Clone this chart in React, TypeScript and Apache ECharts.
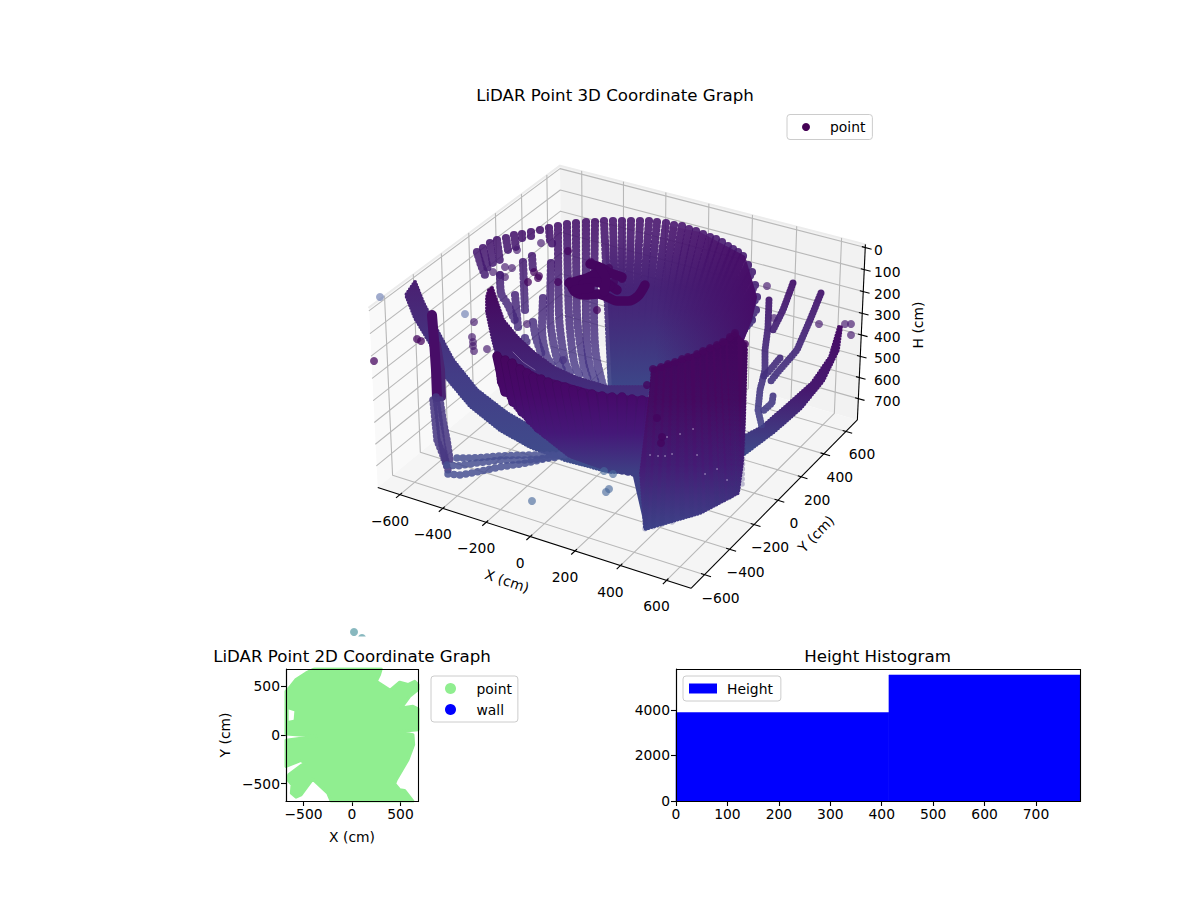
import { useEffect, useRef } from 'react';
import * as echarts from 'echarts';

type Pt = number[];

const FONT = '"DejaVu Sans"';

// ticks of the 3D axes
const xTicks3d = [-600, -400, -200, 0, 200, 400, 600];
const yTicks3d = [-600, -400, -200, 0, 200, 400, 600];
const hTicks3d = [0, 100, 200, 300, 400, 500, 600, 700];

// 3D box limits
const xLim = [-705, 705];
const yLim = [-705, 705];
const hLim = [-14, 802];

const rimShortColumns: Pt[][] = [
  [[477, 252], [481, 265], [485, 275]],
  [[483, 248], [488, 270]],
  [[490, 243], [493, 265]],
  [[497, 240], [500, 262]],
  [[506, 238], [508, 250]],
  [[514, 235], [516, 248]],
  [[522, 234], [522, 240]],
  [[531, 232], [531, 237]],
  [[540, 230], [540, 234]],
  [[549, 228], [550, 240], [553, 245]],
];

const lowerLeftColumns: Pt[][] = [
  [[500, 275], [501, 293], [508, 305], [516, 323]],
  [[523, 262], [525, 310]],
  [[515, 295], [518, 327]],
  [[532, 256], [533, 270]],
  [[525, 338], [527, 343]],
  [[533, 322], [536, 338], [542, 355]],
  [[543, 298], [542, 328], [546, 355], [552, 365]],
  [[551, 263], [550, 315], [556, 355], [562, 370]],
  [[558, 226], [559, 315], [565, 362], [570, 373]],
  [[567, 224], [569, 315], [574, 362], [580, 377]],
  [[576, 223], [577, 315], [583, 362], [588, 380]],
  [[586, 222], [586, 315], [589, 362], [596, 383]],
  [[595, 222], [594, 315], [596, 355], [603, 386]],
];

const bowlRim: Pt[] = [
  [604, 221], [613, 221], [622, 221], [631, 221], [640, 221], [649, 221], [657, 222], [666, 223],
  [674, 225], [682, 226], [689, 229], [696, 231], [703, 234], [710, 237], [716, 239], [722, 242],
  [728, 246], [733, 249], [738, 252], [743, 256], [748, 265], [752, 272], [755, 285], [757, 297],
  [756, 310], [752, 320],
];
const bowlFoot: Pt[] = [
  [612, 392], [617, 392], [622, 395], [627, 395], [632, 395], [636, 395], [640, 395], [644, 395],
  [648, 395], [652, 395], [655, 395], [658, 395], [661, 395], [664, 395], [667, 395], [670, 395],
  [672, 395], [675, 395], [677, 395], [680, 395], [682, 395], [684, 395], [686, 395], [688, 395],
  [688, 395], [688, 395],
];
const bowlCore: Pt[] = [
  [612, 392], [604, 225], [650, 222], [700, 232], [745, 256], [757, 297], [752, 320], [742, 345], [690, 395],
];

const blobStrokes: Pt[][] = [
  [[570, 282], [575, 292], [585, 295], [598, 294], [607, 297], [617, 301], [628, 301], [638, 296], [645, 285]],
  [[590, 264], [602, 268], [608, 272], [622, 277]],
  [[569, 283], [587, 278], [598, 273], [603, 282], [605, 290]],
  [[605, 282], [617, 290]],
  [[583, 284], [595, 282], [610, 286]],
  [[600, 268], [606, 280], [604, 292]],
  [[575, 290], [590, 288]],
];

const crescentBand: Pt[] = [
  [492, 288], [495, 297], [503, 320], [517, 337], [533, 352], [553, 367], [577, 378], [607, 387], [647, 387],
  [647, 430], [580, 420], [547, 407], [513, 380], [497, 355], [493, 340], [487, 312], [487, 297], [489, 290],
];
const crescentBack: Pt[] = [
  [497, 356], [541, 379], [602, 396], [648, 400], [637, 473], [609, 469], [570, 455], [537, 429], [517, 408], [500, 383],
];
const crescentTops: Pt[] = [
  [497, 356], [505, 360], [512, 363], [520, 369], [527, 373], [533, 377], [541, 379], [548, 382], [557, 385],
  [565, 387], [573, 390], [582, 393], [592, 394], [602, 396], [612, 397], [622, 397], [632, 399], [642, 400],
];
const crescentBottoms: Pt[] = [
  [505, 392], [513, 402], [522, 412], [530, 420], [538, 428], [546, 434], [554, 440], [562, 446], [570, 451],
  [578, 455], [586, 458], [594, 461], [602, 464], [609, 466], [615, 468], [622, 470], [628, 471], [634, 472],
];

const leftBand: Pt[] = [
  [415, 282], [423, 302], [437, 330], [453, 360], [477, 390], [507, 413], [540, 432], [570, 444], [610, 458],
  [640, 462], [640, 472], [610, 472], [565, 460], [530, 447], [500, 430], [470, 406], [445, 376], [430, 343], [415, 318], [406, 295],
];
const legThick: Pt[] = [[432, 315], [434, 340], [436, 370], [437, 397]];
const legSide: Pt[] = [[437, 345], [441, 370], [442, 397]];
const legStrands: Pt[][] = [
  [[433, 400], [435, 420], [437, 440], [443, 455], [448, 470], [450, 473]],
  [[440, 400], [443, 420], [447, 440], [450, 460]],
  [[436, 397], [439, 420], [442, 445], [446, 462]],
];
const floorStrands: Pt[][] = [
  [[457, 458], [473, 458], [500, 456], [527, 455], [547, 455], [573, 455]],
  [[447, 465], [457, 466], [477, 463], [500, 460], [527, 460], [560, 457]],
  [[448, 474], [460, 475], [477, 472], [500, 467], [527, 463], [560, 455]],
];

const rightBand: Pt[] = [
  [839, 327], [830, 357], [812, 383], [785, 407], [762, 427], [743, 437],
  [743, 455], [775, 431], [801, 408], [823, 381], [838, 350], [841, 327],
];
const rightBranches: Pt[][] = [
  [[769, 300], [768, 327], [765, 350], [765, 370], [760, 390], [758, 410], [762, 427]],
  [[793, 283], [783, 310], [773, 330]],
  [[821, 293], [810, 320], [797, 350], [777, 373], [770, 382]],
  [[780, 358], [770, 370], [763, 377]],
  [[773, 396], [772, 403], [762, 412]],
];

const wallOutline: Pt[] = [
  [653, 369], [661, 367], [668, 364], [675, 362], [682, 359], [688, 357], [697, 354], [703, 351], [710, 348],
  [717, 345], [723, 342], [730, 337], [735, 333], [745, 344], [746, 350], [744, 420], [742, 463], [738, 493],
  [700, 513], [645, 529], [641, 473], [650, 400],
];
const wallTops: Pt[] = [
  [653, 369], [661, 367], [668, 364], [675, 362], [682, 359], [688, 357], [697, 354], [703, 351], [710, 348],
  [717, 345], [723, 342], [730, 337], [735, 333], [745, 344],
];
const wallBottoms: Pt[] = [
  [645, 529], [653, 527], [662, 525], [672, 522], [682, 519], [692, 516], [700, 513], [708, 508], [717, 505],
  [723, 502], [730, 498], [735, 495], [738, 492], [742, 487],
];
const wallFan: Pt[] = [[631, 468], [650, 395], [655, 527], [645, 529]];
const wallSpecks: Pt[] = [
  [693, 429], [680, 434], [667, 437], [650, 455], [658, 456], [665, 456], [672, 454], [697, 455],
  [705, 474], [717, 469], [727, 480],
];

const darkPoints: Pt[] = [
  [597, 310], [568, 251], [558, 282], [539, 276], [538, 278], [534, 272], [528, 282],
  [417, 339], [421, 341], [374, 361], [591, 262], [597, 268], [609, 268], [577, 281], [614, 282], [622, 279],
];
const wallPoints: Pt[] = [[657, 418], [662, 437], [661, 443], [647, 385]];
const midPoints: Pt[] = [
  [541, 243], [517, 250], [505, 267], [512, 268], [493, 272], [500, 275], [505, 277], [563, 360], [527, 324],
  [474, 322], [472, 337], [473, 342], [473, 346], [474, 351], [487, 349],
  [767, 286], [774, 318], [819, 324], [845, 324], [851, 324], [851, 335],
];
const paleBluePoints: Pt[] = [[380, 297], [465, 314]];
const floorPoints: Pt[] = [[532, 501], [604, 471], [613, 474], [606, 492], [609, 489]];
const tealPoints: Pt[] = [[354, 632], [362, 638]];

// 2D plot outline of the scattered points, in cm
const topViewOutline: Pt[] = [
  [-387, 682], [301, 682], [284, 623], [250, 554], [394, 461], [491, 544], [577, 520], [646, 554], [680, 520],
  [680, 468], [594, 399], [508, 279], [628, 296], [680, 269], [680, 55], [473, 34], [628, 3], [635, -100],
  [577, -255], [456, -461], [439, -503], [491, -565], [542, -572], [628, -682], [-215, -682], [-250, -599],
  [-405, -454], [-525, -616], [-577, -640], [-625, -599], [-618, -513], [-663, -461], [-652, -410], [-491, -289],
  [-525, -262], [-680, -324], [-680, -55], [-370, -14], [-680, 10], [-680, 451], [-646, 485], [-577, 572], [-473, 640],
];
const topViewHole: Pt[] = [[-652, 262], [-594, 244], [-601, 158], [-652, 148]];
const tickValues2d = [-500, 0, 500];

// histogram
const binEdges = [0, 414, 786];
const binCounts = [3886, 5539];
const histYTicks = [0, 2000, 4000];

// same view as matplotlib's elev 30, azim -60
function project(x: number, y: number, h: number): Pt {
  const dx = ((x - xLim[0]) / (xLim[1] - xLim[0]) - 0.5) * 1.19;
  const dy = ((y - yLim[0]) / (yLim[1] - yLim[0]) - 0.5) * 1.19;
  const dz = (0.5 - (h - hLim[0]) / (hLim[1] - hLim[0])) * 0.684;
  const vx = 0.866 * dx + 0.5 * dy;
  const vy = -0.25 * dx + 0.433 * dy + 0.866 * dz;
  const depth = 10 - (0.433 * dx - 0.75 * dy + 0.5 * dz);
  return [622 + (3000 * vx) / depth, 365.7 - (3000 * vy) / depth];
}

const stops = (colors: string[]) => colors.map((color, i) => ({ offset: i / (colors.length - 1), color }));
const fade = (y0: number, y1: number, ...colors: string[]) =>
  new echarts.graphic.LinearGradient(0, y0, 0, y1, stops(colors), true);
const fadeAcross = (x0: number, x1: number, ...colors: string[]) =>
  new echarts.graphic.LinearGradient(x0, 0, x1, 0, stops(colors), true);

function stroke(data: Pt[], width: number, color: any, opts: any = {}) {
  return {
    type: 'line',
    name: 'point',
    data,
    symbol: 'none',
    silent: true,
    clip: opts.clip ?? false,
    xAxisIndex: opts.axis ?? 0,
    yAxisIndex: opts.axis ?? 0,
    smooth: opts.smooth ?? 0,
    lineStyle: { width, color, cap: opts.cap ?? 'round', join: 'round', type: opts.dash ?? 'solid', opacity: 1 },
  };
}

function polygon(points: Pt[], fill: any, axis = 0) {
  return {
    type: 'custom',
    name: 'point',
    xAxisIndex: axis,
    yAxisIndex: axis,
    silent: true,
    clip: axis !== 0,
    data: [[points[0][0], points[0][1]]],
    renderItem: (_: any, api: any) => ({
      type: 'polygon',
      shape: { points: points.map((p) => api.coord(p)) },
      style: { fill },
    }),
  };
}

// polygon with a beaded rim, so it has the soft edge of a dense point cloud
function mass(points: Pt[], fill: any, rim = 4) {
  return [polygon(points, fill), stroke([...points, points[0]], rim, fill, { dash: [0, 3] })];
}

function dots(data: Pt[], color: string, size = 8) {
  return {
    type: 'scatter',
    name: 'point',
    data,
    symbolSize: size,
    silent: true,
    clip: false,
    itemStyle: { color },
  };
}

function frameSeries() {
  const [x0, x1] = xLim;
  const [y0, y1] = yLim;
  const [hTop, hBot] = hLim;
  const gridColor = '#b8b8b8';
  const list: any[] = [
    polygon([project(x0, y0, hBot), project(x0, y0, hTop), project(x0, y1, hTop), project(x0, y1, hBot)], '#f9f9f9'),
    polygon([project(x0, y1, hBot), project(x0, y1, hTop), project(x1, y1, hTop), project(x1, y1, hBot)], '#f2f2f2'),
    polygon([project(x0, y0, hBot), project(x1, y0, hBot), project(x1, y1, hBot), project(x0, y1, hBot)], '#f5f5f5'),
    stroke([project(x0, y0, hTop), project(x0, y1, hTop), project(x1, y1, hTop)], 2, '#ececec'),
  ];
  xTicks3d.forEach((t) =>
    list.push(stroke([project(t, y0, hBot), project(t, y1, hBot), project(t, y1, hTop)], 1.1, gridColor)),
  );
  yTicks3d.forEach((t) =>
    list.push(stroke([project(x1, t, hBot), project(x0, t, hBot), project(x0, t, hTop)], 1.1, gridColor)),
  );
  hTicks3d.forEach((t) =>
    list.push(stroke([project(x0, y0, t), project(x0, y1, t), project(x1, y1, t)], 1.1, gridColor)),
  );
  list.push(stroke([project(x0, y0, hBot), project(x1, y0, hBot)], 1.1, '#000', { cap: 'butt' }));
  list.push(stroke([project(x1, y0, hBot), project(x1, y1, hBot)], 1.1, '#000', { cap: 'butt' }));
  list.push(stroke([project(x1, y1, hBot), project(x1, y1, hTop)], 1.1, '#000', { cap: 'butt' }));
  xTicks3d.forEach((t) =>
    list.push(stroke([project(t, y0 + 15, hBot), project(t, y0 - 28, hBot)], 1.1, '#000', { cap: 'butt' })),
  );
  yTicks3d.forEach((t) =>
    list.push(stroke([project(x1 - 15, t, hBot), project(x1 + 28, t, hBot)], 1.1, '#000', { cap: 'butt' })),
  );
  hTicks3d.forEach((t) =>
    list.push(stroke([project(x1 - 15, y1, t), project(x1 + 28, y1, t)], 1.1, '#000', { cap: 'butt' })),
  );
  return list;
}

function frameLabels() {
  const font = `13.89px ${FONT}`;
  const label = (text: string, p: Pt, align = 'center', rotation = 0) => ({
    type: 'text',
    x: p[0],
    y: p[1],
    rotation,
    z: 5000,
    style: { text, font, fill: '#000', align, verticalAlign: 'middle' },
  });
  const minus = (t: number) => String(t).replace('-', '\u2212');
  const out: any[] = [];
  xTicks3d.forEach((t) => {
    const p = project(t, yLim[0], hLim[1]);
    out.push(label(minus(t), [p[0] - 10, p[1] + 26]));
  });
  yTicks3d.forEach((t) => {
    const p = project(xLim[1], t, hLim[1]);
    out.push(label(minus(t), [p[0] + 16, p[1] + 23]));
  });
  hTicks3d.forEach((t) => {
    const p = project(xLim[1], yLim[1], t);
    out.push(label(minus(t), [874, p[1] + 2], 'left'));
  });
  out.push(label('X (cm)', [507, 581], 'center', -0.32));
  out.push(label('Y (cm)', [816, 534], 'center', 0.8));
  out.push(label('H (cm)', [918, 325], 'center', Math.PI / 2));
  return out;
}

function cloudSeries() {
  const list: any[] = [];
  const bead = fade(220, 390, 'rgba(68,14,104,0.88)', 'rgba(68,58,136,0.78)');
  const beadDash = [0, 4];
  list.push(dots(paleBluePoints, 'rgba(85,105,165,0.7)'));
  list.push(dots(midPoints, 'rgba(72,28,112,0.85)'));
  rimShortColumns.forEach((c) => list.push(stroke(c, 8.2, bead, { dash: beadDash })));
  lowerLeftColumns.forEach((c) => list.push(stroke(c, 8.2, bead, { dash: beadDash, smooth: 0.3 })));
  // the core fades in downwards, so the slits between the columns close gradually
  list.push(polygon(bowlCore, fade(235, 395, 'rgba(71,24,112,0)', 'rgba(70,30,118,0.9)', 'rgba(66,44,124,1)', '#3e4a8a')));
  const bowl = fade(222, 395, 'rgba(70,18,108,0.88)', 'rgba(68,38,120,0.9)', 'rgba(60,74,138,0.95)');
  bowlRim.forEach((r, i) => list.push(stroke([r, bowlFoot[i]], 8.2, bowl, { dash: beadDash })));
  list.push(polygon(bowlCore, fadeAcross(655, 757, 'rgba(70,8,100,0)', 'rgba(70,8,100,0.85)')));
  list.push(dots(darkPoints, 'rgba(68,4,94,0.92)'));
  blobStrokes.forEach((s) => list.push(stroke(s, 9.5, '#44055f', { smooth: 0.3 })));
  list.push(...mass(leftBand, fade(282, 465, '#4a2072', '#433c86', '#3f4d8c')));
  list.push(stroke(legSide, 8, '#4a2472'));
  list.push(stroke(legThick, 10, '#470d67'));
  legStrands.forEach((s) => list.push(stroke(s, 7.5, 'rgba(72,56,130,0.88)', { dash: beadDash })));
  floorStrands.forEach((s) => list.push(stroke(s, 7.5, 'rgba(72,80,146,0.85)', { dash: [0, 6] })));
  list.push(...mass(rightBand, fade(327, 455, '#470c66', '#46196f', '#3e4a8a')));
  rightBranches.forEach((s) =>
    list.push(stroke(s, 7, fade(283, 427, 'rgba(70,20,108,0.95)', 'rgba(66,64,136,0.88)'), { dash: [0, 3] })),
  );
  list.push(...mass(crescentBand, fade(290, 395, '#45075f', '#43307e')));
  list.push(stroke([[513, 352], [523, 362], [535, 370]], 0.8, 'rgba(190,180,215,0.55)'));
  list.push(polygon(wallFan, fade(395, 529, '#40307a', '#3d4a8c')));
  const crescent = fade(356, 472, '#46065f', '#47096a', '#451878', '#3e3f84');
  list.push(...mass(crescentBack, crescent, 6));
  crescentTops.forEach((t, i) => {
    list.push(stroke([t, crescentBottoms[i]], 9.4, fade(356, 472, '#3e0458', '#400a62', '#431a76', '#3e3f84')));
    list.push(stroke([t, crescentBottoms[i]], 7.8, crescent));
  });
  const wall = fade(335, 530, '#46065f', '#46085f', '#451a74', '#3e4489');
  list.push(...mass(wallOutline, wall));
  const wallLine = fade(335, 530, 'rgba(60,2,88,0.3)', 'rgba(56,60,130,0.3)');
  wallTops.forEach((t, i) => list.push(stroke([t, wallBottoms[i]], 5.5, wallLine, { dash: [0, 5] })));
  list.push(dots(wallTops, '#46065f', 8));
  list.push(dots(wallPoints, '#44055f'));
  list.push(dots(wallSpecks, 'rgba(214,206,232,0.7)', 1.6));
  list.push(dots(floorPoints, 'rgba(72,105,155,0.8)'));
  list.push(dots(tealPoints, 'rgba(80,150,160,0.85)'));
  return list;
}

export default function App() {
  const chartRef = useRef<HTMLDivElement>(null);

  useEffect(() => {
    if (!chartRef.current) return;
    const chart = echarts.init(chartRef.current, undefined, { renderer: 'svg' });
    const text = { fontFamily: FONT, fontSize: 13.89, color: '#000' };
    const titleStyle = { fontFamily: FONT, fontSize: 16.67, fontWeight: 'normal', color: '#000' };
    const legendBox = {
      orient: 'vertical' as const,
      selectedMode: false,
      z: 5000,
      backgroundColor: 'rgba(255,255,255,0.8)',
      borderColor: '#ccc',
      borderWidth: 1,
      borderRadius: 3,
      itemGap: 7,
    };
    const axis2d = (name: string, values: number[], extra: any) => ({
      type: 'value',
      name,
      nameLocation: 'middle',
      nameTextStyle: text,
      splitLine: { show: false },
      axisLine: { onZero: false, lineStyle: { color: '#000', width: 1.1 } },
      axisTick: { length: 5, lineStyle: { color: '#000', width: 1.1 }, customValues: values },
      axisLabel: {
        ...text,
        margin: 6,
        customValues: values,
        formatter: (v: number) => String(v).replace('-', '\u2212'),
      },
      ...extra,
    });

    const allSeries: any[] = [
      ...frameSeries(),
      ...cloudSeries(),
      polygon(topViewOutline, '#90ee90', 1),
      stroke([...topViewOutline, topViewOutline[0]], 3, '#90ee90', { axis: 1, clip: true }),
      polygon(topViewHole, '#fff', 1),
      { type: 'scatter', name: 'wall', xAxisIndex: 1, yAxisIndex: 1, data: [], itemStyle: { color: '#0000ff' } },
      {
        type: 'custom',
        name: 'Height',
        xAxisIndex: 2,
        yAxisIndex: 2,
        silent: true,
        itemStyle: { color: '#0000ff' },
        encode: { x: [0, 1], y: 2 },
        data: binCounts.map((c, i) => [binEdges[i], binEdges[i + 1], c]),
        renderItem: (_: any, api: any) => {
          const a = api.coord([api.value(0), api.value(2)]);
          const b = api.coord([api.value(1), 0]);
          return {
            type: 'rect',
            shape: { x: a[0], y: a[1], width: b[0] - a[0], height: b[1] - a[1] },
            style: { fill: '#0000ff', stroke: '#0000ff', lineWidth: 0.5 },
          };
        },
      },
    ];

    chart.setOption({
      animation: false,
      backgroundColor: '#fff',
      title: [
        { text: 'LiDAR Point 3D Coordinate Graph', left: 615, top: 87, textAlign: 'center', padding: 0, textStyle: titleStyle },
        { text: 'LiDAR Point 2D Coordinate Graph', left: 352, top: 648, textAlign: 'center', padding: 0, textStyle: titleStyle },
        { text: 'Height Histogram', left: 877.5, top: 648, textAlign: 'center', padding: 0, textStyle: titleStyle },
      ],
      legend: [
        {
          ...legendBox,
          left: 787,
          top: 114.5,
          padding: [5.5, 7, 5.5, 15],
          itemWidth: 26,
          itemHeight: 8,
          textStyle: { ...text, padding: [0, 0, 0, 6] },
          data: [{ name: 'point', icon: 'circle', itemStyle: { color: '#440154', opacity: 1 } }],
        },
        {
          ...legendBox,
          left: 431,
          top: 676,
          padding: [5.5, 6, 5.5, 14],
          itemWidth: 28,
          itemHeight: 11,
          textStyle: { ...text, padding: [0, 0, 0, 7] },
          data: [
            { name: 'point', icon: 'circle', itemStyle: { color: '#90ee90', opacity: 1 } },
            { name: 'wall', icon: 'circle', itemStyle: { color: '#0000ff', opacity: 1 } },
          ],
        },
        {
          ...legendBox,
          left: 683,
          top: 676,
          padding: [5.5, 8, 5.5, 6],
          itemWidth: 28,
          itemHeight: 10,
          textStyle: { ...text, padding: [0, 0, 0, 5] },
          data: [{ name: 'Height', icon: 'rect', itemStyle: { color: '#0000ff', opacity: 1 } }],
        },
      ],
      grid: [
        { left: 0, top: 0, width: 1200, height: 900 },
        { left: 286, top: 669, width: 132, height: 132 },
        { left: 676, top: 669, width: 404, height: 132 },
      ],
      xAxis: [
        { type: 'value', gridIndex: 0, min: 0, max: 1200, show: false },
        axis2d('X (cm)', tickValues2d, { gridIndex: 1, min: -680, max: 680, nameGap: 29 }),
        {
          type: 'value',
          gridIndex: 2,
          min: 0,
          max: 785.5,
          interval: 100,
          splitLine: { show: false },
          axisLine: { lineStyle: { color: '#000', width: 1.1 } },
          axisTick: { length: 5, lineStyle: { color: '#000', width: 1.1 } },
          axisLabel: { ...text, margin: 6, showMaxLabel: false },
        },
      ],
      yAxis: [
        { type: 'value', gridIndex: 0, min: 0, max: 900, inverse: true, show: false },
        axis2d('Y (cm)', tickValues2d, { gridIndex: 1, min: -680, max: 680, nameGap: 54 }),
        axis2d('', histYTicks, { gridIndex: 2, min: 0, max: 5800 }),
      ],
      // paint strictly in list order, line series would otherwise sit above the custom ones
      series: allSeries.map((s, i) => ({ ...s, z: i + 2 })),
      graphic: [
        ...frameLabels(),
        { type: 'rect', z: 5000, shape: { x: 350, y: 636.5, width: 24, height: 6 }, style: { fill: '#fff' } },
        { type: 'rect', z: 5000, shape: { x: 286.5, y: 669.5, width: 132, height: 132 }, style: { fill: 'none', stroke: '#000', lineWidth: 1.1 } },
        { type: 'rect', z: 5000, shape: { x: 676.5, y: 669.5, width: 404, height: 132 }, style: { fill: 'none', stroke: '#000', lineWidth: 1.1 } },
      ],
    });

    return () => {
      chart.dispose();
    };
  }, []);

  return <div ref={chartRef} style={{ position: 'absolute', left: 0, top: 0, width: 1200, height: 900 }} />;
}
